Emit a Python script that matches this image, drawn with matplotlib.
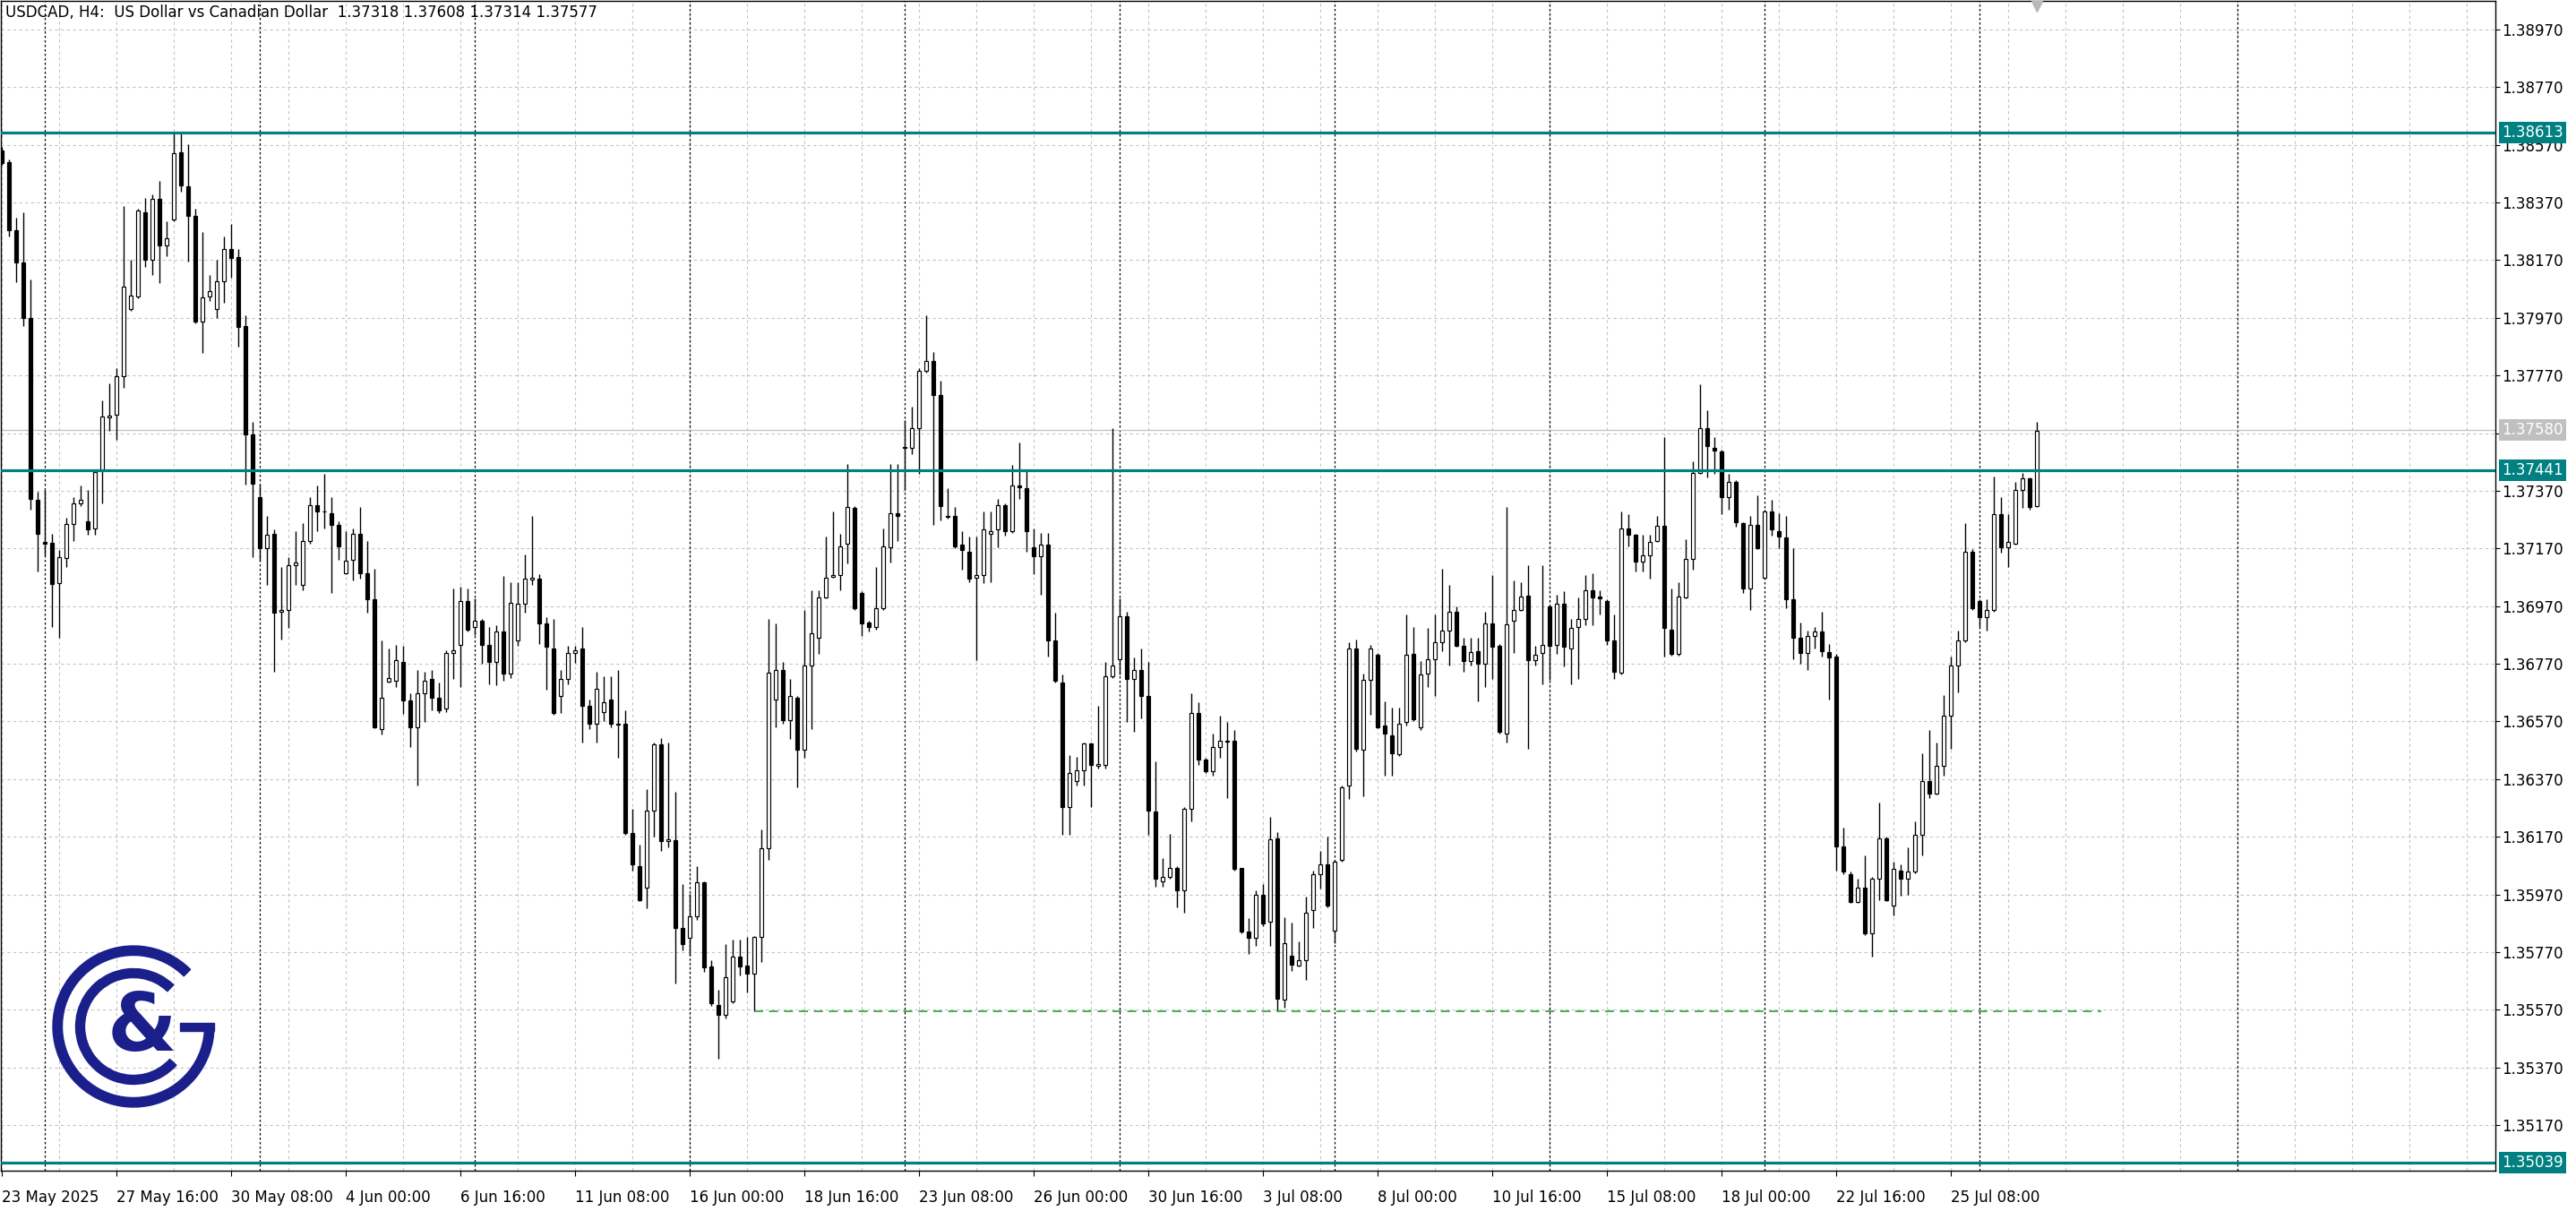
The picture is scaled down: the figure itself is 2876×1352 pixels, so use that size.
import numpy as np
import matplotlib
matplotlib.use("Agg")
import matplotlib.pyplot as plt
import matplotlib.transforms as mtransforms
from matplotlib.patches import Wedge, Rectangle
from matplotlib.ticker import FormatStrFormatter

# USDCAD H4 candles, bar 0 = 23 May 2025 00:00
opens = [
    1.38551, 1.38509, 1.38273, 1.38162, 1.37969, 1.37340, 1.37192, 1.37190, 1.37049, 1.37137,
    1.37254, 1.37327, 1.37265, 1.37239, 1.37441, 1.37625, 1.37635, 1.37766, 1.37999, 1.38044,
    1.38337, 1.38170, 1.38384, 1.38220, 1.38312, 1.38545, 1.38427, 1.38322, 1.37956, 1.38044,
    1.37999, 1.38098, 1.38209, 1.38181, 1.37941, 1.37565, 1.37349, 1.37171, 1.37220, 1.36951,
    1.36957, 1.37111, 1.37043, 1.37197, 1.37321, 1.37299, 1.37293, 1.37252, 1.37085, 1.37132,
    1.37222, 1.37085, 1.36993, 1.36544, 1.36709, 1.36711, 1.36775, 1.36642, 1.36550, 1.36668,
    1.36717, 1.36653, 1.36615, 1.36807, 1.36835, 1.36989, 1.36897, 1.36918, 1.36835, 1.36775,
    1.36882, 1.36737, 1.36850, 1.36979, 1.37062, 1.37064, 1.36910, 1.36824, 1.36657, 1.36717,
    1.36807, 1.36824, 1.36625, 1.36561, 1.36604, 1.36645, 1.36563, 1.36561, 1.36182, 1.36069,
    1.35994, 1.36262, 1.36491, 1.36155, 1.36159, 1.35855, 1.35819, 1.35893, 1.36011, 1.35720,
    1.35588, 1.35551, 1.35598, 1.35754, 1.35722, 1.35694, 1.35823, 1.36129, 1.36647, 1.36749,
    1.36576, 1.36653, 1.36471, 1.36764, 1.36861, 1.37000, 1.37073, 1.37079, 1.37186, 1.37310,
    1.37017, 1.36914, 1.36897, 1.36963, 1.37175, 1.37293, 1.37522, 1.37520, 1.37588, 1.37787,
    1.37819, 1.37702, 1.37284, 1.37282, 1.37182, 1.37160, 1.37068, 1.37079, 1.37220, 1.37235,
    1.37321, 1.37229, 1.37389, 1.37379, 1.37175, 1.37143, 1.37182, 1.36850, 1.36705, 1.36272,
    1.36362, 1.36401, 1.36493, 1.36416, 1.36418, 1.36726, 1.36786, 1.36936, 1.36717, 1.36749,
    1.36657, 1.36257, 1.36015, 1.36030, 1.36062, 1.35983, 1.36268, 1.36600, 1.36439, 1.36396,
    1.36482, 1.36503, 1.36503, 1.36062, 1.35840, 1.35819, 1.35968, 1.35876, 1.36165, 1.35605,
    1.35759, 1.35722, 1.35742, 1.35915, 1.36041, 1.36075, 1.35844, 1.36090, 1.36347, 1.36824,
    1.36471, 1.36715, 1.36801, 1.36555, 1.36523, 1.36458, 1.36567, 1.36803, 1.36550, 1.36737,
    1.36786, 1.36846, 1.36886, 1.36951, 1.36833, 1.36779, 1.36814, 1.36769, 1.36910, 1.36833,
    1.36529, 1.36918, 1.36957, 1.37006, 1.36782, 1.36807, 1.36968, 1.36835, 1.36979, 1.36824,
    1.36897, 1.36925, 1.37026, 1.37002, 1.36989, 1.36850, 1.36739, 1.37239, 1.37218, 1.37124,
    1.37145, 1.37197, 1.37250, 1.36889, 1.36803, 1.37000, 1.37135, 1.37432, 1.37588, 1.37520,
    1.37507, 1.37349, 1.37402, 1.37257, 1.37032, 1.37252, 1.37068, 1.37299, 1.37231, 1.37207,
    1.36993, 1.36861, 1.36807, 1.36867, 1.36882, 1.36811, 1.36796, 1.36137, 1.36041, 1.35945,
    1.35994, 1.35834, 1.36026, 1.36165, 1.35930, 1.36054, 1.36026, 1.36048, 1.36176, 1.36364,
    1.36321, 1.36416, 1.36589, 1.36764, 1.36850, 1.37160, 1.36989, 1.36931, 1.36957, 1.37289,
    1.37175, 1.37188, 1.37374, 1.37413, 1.37318,
]
highs = [
    1.38562, 1.38519, 1.38316, 1.38337, 1.38102, 1.37368, 1.37374, 1.37220, 1.37165, 1.37278,
    1.37349, 1.37389, 1.37374, 1.37445, 1.37685, 1.37742, 1.37796, 1.38359, 1.38172, 1.38348,
    1.38386, 1.38397, 1.38444, 1.38305, 1.38613, 1.38609, 1.38571, 1.38348, 1.38269, 1.38117,
    1.38172, 1.38252, 1.38295, 1.38209, 1.37980, 1.37610, 1.37391, 1.37282, 1.37235, 1.37107,
    1.37139, 1.37231, 1.37257, 1.37349, 1.37389, 1.37428, 1.37349, 1.37263, 1.37231, 1.37239,
    1.37314, 1.37197, 1.37100, 1.36850, 1.36824, 1.36837, 1.36833, 1.36668, 1.36747, 1.36743,
    1.36747, 1.36705, 1.36818, 1.37032, 1.37036, 1.37032, 1.36996, 1.36927, 1.36897, 1.36903,
    1.37075, 1.37053, 1.37053, 1.37150, 1.37284, 1.37081, 1.36931, 1.36925, 1.36747, 1.36833,
    1.36833, 1.36897, 1.36647, 1.36743, 1.36726, 1.36726, 1.36747, 1.36610, 1.36268, 1.36144,
    1.36336, 1.36497, 1.36512, 1.36497, 1.36326, 1.36005, 1.35973, 1.36069, 1.36015, 1.35742,
    1.35641, 1.35797, 1.35812, 1.35812, 1.35823, 1.35827, 1.36197, 1.36925, 1.36910, 1.36775,
    1.36717, 1.36657, 1.36957, 1.37026, 1.37026, 1.37210, 1.37299, 1.37220, 1.37464, 1.37316,
    1.37021, 1.36918, 1.37107, 1.37239, 1.37464, 1.37464, 1.37614, 1.37663, 1.37796, 1.37978,
    1.37852, 1.37753, 1.37379, 1.37314, 1.37231, 1.37210, 1.37210, 1.37299, 1.37299, 1.37342,
    1.37325, 1.37460, 1.37539, 1.37443, 1.37239, 1.37224, 1.37224, 1.36946, 1.36732, 1.36454,
    1.36448, 1.36497, 1.36497, 1.36625, 1.36775, 1.37588, 1.36996, 1.36951, 1.36792, 1.36824,
    1.36775, 1.36433, 1.36097, 1.36180, 1.36069, 1.36272, 1.36668, 1.36636, 1.36443, 1.36529,
    1.36589, 1.36567, 1.36540, 1.36062, 1.35887, 1.35983, 1.36005, 1.36240, 1.36187, 1.35891,
    1.35872, 1.35808, 1.35962, 1.36054, 1.36122, 1.36170, 1.36090, 1.36347, 1.36846, 1.36854,
    1.36737, 1.36835, 1.36807, 1.36640, 1.36619, 1.36619, 1.36942, 1.36899, 1.36779, 1.36893,
    1.36940, 1.37100, 1.37043, 1.36968, 1.36861, 1.36861, 1.36861, 1.36951, 1.37079, 1.36839,
    1.37314, 1.37060, 1.37053, 1.37113, 1.36833, 1.37113, 1.36972, 1.37010, 1.37021, 1.36925,
    1.37000, 1.37079, 1.37085, 1.37026, 1.36993, 1.36940, 1.37299, 1.37289, 1.37222, 1.37218,
    1.37218, 1.37284, 1.37556, 1.37032, 1.37053, 1.37203, 1.37471, 1.37738, 1.37648, 1.37556,
    1.37513, 1.37428, 1.37406, 1.37261, 1.37282, 1.37353, 1.37304, 1.37338, 1.37293, 1.37282,
    1.37171, 1.36914, 1.36886, 1.36897, 1.36951, 1.36839, 1.36803, 1.36202, 1.36048, 1.36026,
    1.36105, 1.36030, 1.36289, 1.36170, 1.36084, 1.36073, 1.36133, 1.36223, 1.36460, 1.36540,
    1.36497, 1.36662, 1.36796, 1.36886, 1.37257, 1.37167, 1.36993, 1.36993, 1.37421, 1.37347,
    1.37289, 1.37402, 1.37432, 1.37417, 1.37608,
]
lows = [
    1.38502, 1.38252, 1.38095, 1.37941, 1.37306, 1.37090, 1.37145, 1.36899, 1.36861, 1.37107,
    1.37197, 1.37316, 1.37218, 1.37218, 1.37325, 1.37578, 1.37548, 1.37727, 1.37995, 1.38038,
    1.38145, 1.38119, 1.38091, 1.38183, 1.38305, 1.38408, 1.38166, 1.37952, 1.37849, 1.38027,
    1.37969, 1.38023, 1.38108, 1.37871, 1.37391, 1.37139, 1.37128, 1.37043, 1.36743, 1.36854,
    1.36893, 1.37043, 1.37026, 1.37186, 1.37231, 1.37239, 1.37015, 1.37132, 1.37081, 1.37060,
    1.37064, 1.36946, 1.36546, 1.36525, 1.36705, 1.36690, 1.36597, 1.36482, 1.36347, 1.36567,
    1.36610, 1.36600, 1.36604, 1.36717, 1.36690, 1.36882, 1.36871, 1.36771, 1.36700, 1.36696,
    1.36711, 1.36722, 1.36833, 1.36946, 1.37043, 1.36839, 1.36679, 1.36593, 1.36600, 1.36700,
    1.36773, 1.36497, 1.36544, 1.36497, 1.36572, 1.36550, 1.36443, 1.36176, 1.36054, 1.35947,
    1.35923, 1.36170, 1.36122, 1.36133, 1.35662, 1.35776, 1.35759, 1.35881, 1.35701, 1.35583,
    1.35399, 1.35540, 1.35594, 1.35688, 1.35630, 1.35566, 1.35737, 1.36090, 1.36550, 1.36561,
    1.36508, 1.36341, 1.36443, 1.36544, 1.36803, 1.36996, 1.37068, 1.37026, 1.37118, 1.36957,
    1.36867, 1.36882, 1.36889, 1.36957, 1.37122, 1.37197, 1.37374, 1.37496, 1.37428, 1.37781,
    1.37252, 1.37267, 1.37274, 1.37171, 1.37096, 1.37053, 1.36782, 1.37049, 1.37053, 1.37175,
    1.37214, 1.37224, 1.37342, 1.37160, 1.37081, 1.37010, 1.36796, 1.36705, 1.36176, 1.36176,
    1.36347, 1.36347, 1.36272, 1.36407, 1.36407, 1.36722, 1.36732, 1.36567, 1.36533, 1.36582,
    1.36176, 1.35998, 1.35998, 1.36026, 1.35925, 1.35908, 1.36225, 1.36418, 1.36390, 1.36383,
    1.36443, 1.36304, 1.36054, 1.35834, 1.35765, 1.35791, 1.35861, 1.35791, 1.35566, 1.35577,
    1.35705, 1.35720, 1.35673, 1.35855, 1.35990, 1.35925, 1.35801, 1.36084, 1.36300, 1.36465,
    1.36309, 1.36593, 1.36546, 1.36383, 1.36383, 1.36450, 1.36557, 1.36572, 1.36540, 1.36690,
    1.36657, 1.36814, 1.36764, 1.36829, 1.36743, 1.36764, 1.36640, 1.36690, 1.36717, 1.36529,
    1.36497, 1.36807, 1.36953, 1.36476, 1.36764, 1.36700, 1.36715, 1.36803, 1.36760, 1.36700,
    1.36717, 1.36903, 1.36903, 1.36940, 1.36835, 1.36717, 1.36732, 1.37177, 1.37090, 1.37090,
    1.37064, 1.37192, 1.36796, 1.36799, 1.36799, 1.36996, 1.37096, 1.37428, 1.37417, 1.37428,
    1.37289, 1.37304, 1.37246, 1.37015, 1.36957, 1.37167, 1.37064, 1.37214, 1.37171, 1.36963,
    1.36786, 1.36769, 1.36749, 1.36824, 1.36796, 1.36647, 1.36054, 1.36041, 1.35941, 1.35941,
    1.35829, 1.35754, 1.35951, 1.35947, 1.35898, 1.35966, 1.35968, 1.36043, 1.36107, 1.36304,
    1.36317, 1.36383, 1.36476, 1.36672, 1.36846, 1.36957, 1.36897, 1.36886, 1.36951, 1.37154,
    1.37107, 1.37182, 1.37310, 1.37306, 1.37314,
]
closes = [
    1.38508, 1.38273, 1.38162, 1.37969, 1.37342, 1.37220, 1.37188, 1.37047, 1.37139, 1.37254,
    1.37327, 1.37340, 1.37235, 1.37434, 1.37627, 1.37631, 1.37766, 1.38078, 1.38048, 1.38342,
    1.38170, 1.38384, 1.38220, 1.38245, 1.38541, 1.38429, 1.38322, 1.37956, 1.38042, 1.38063,
    1.38098, 1.38209, 1.38177, 1.37937, 1.37565, 1.37396, 1.37171, 1.37218, 1.36946, 1.36957,
    1.37111, 1.37120, 1.37197, 1.37321, 1.37299, 1.37297, 1.37252, 1.37177, 1.37128, 1.37222,
    1.37085, 1.36993, 1.36550, 1.36653, 1.36722, 1.36782, 1.36642, 1.36550, 1.36668, 1.36711,
    1.36653, 1.36610, 1.36807, 1.36818, 1.36989, 1.36889, 1.36918, 1.36835, 1.36775, 1.36882,
    1.36737, 1.36981, 1.36979, 1.37064, 1.37068, 1.36910, 1.36829, 1.36600, 1.36717, 1.36807,
    1.36816, 1.36625, 1.36561, 1.36683, 1.36636, 1.36561, 1.36559, 1.36182, 1.36073, 1.35951,
    1.36262, 1.36491, 1.36155, 1.36161, 1.35855, 1.35797, 1.35893, 1.36011, 1.35716, 1.35592,
    1.35551, 1.35684, 1.35754, 1.35720, 1.35694, 1.35823, 1.36129, 1.36739, 1.36749, 1.36576,
    1.36657, 1.36471, 1.36764, 1.36876, 1.37000, 1.37070, 1.37079, 1.37177, 1.37314, 1.36963,
    1.36910, 1.36897, 1.36963, 1.37177, 1.37293, 1.37282, 1.37518, 1.37588, 1.37787, 1.37819,
    1.37702, 1.37316, 1.37280, 1.37177, 1.37165, 1.37064, 1.37079, 1.37235, 1.37229, 1.37321,
    1.37229, 1.37389, 1.37381, 1.37229, 1.37143, 1.37182, 1.36850, 1.36711, 1.36272, 1.36390,
    1.36401, 1.36493, 1.36418, 1.36422, 1.36726, 1.36764, 1.36936, 1.36717, 1.36749, 1.36657,
    1.36262, 1.36026, 1.36030, 1.36062, 1.35983, 1.36268, 1.36600, 1.36439, 1.36396, 1.36480,
    1.36503, 1.36499, 1.36058, 1.35840, 1.35819, 1.35968, 1.35870, 1.36161, 1.35609, 1.35801,
    1.35727, 1.35742, 1.35908, 1.36041, 1.36073, 1.35930, 1.36084, 1.36343, 1.36824, 1.36476,
    1.36715, 1.36822, 1.36550, 1.36529, 1.36460, 1.36561, 1.36801, 1.36578, 1.36732, 1.36786,
    1.36846, 1.36886, 1.36951, 1.36833, 1.36779, 1.36811, 1.36769, 1.36910, 1.36829, 1.36533,
    1.36908, 1.36957, 1.37004, 1.36782, 1.36801, 1.36835, 1.36833, 1.36979, 1.36829, 1.36893,
    1.36925, 1.37026, 1.37000, 1.36998, 1.36850, 1.36743, 1.37239, 1.37218, 1.37124, 1.37145,
    1.37192, 1.37250, 1.36893, 1.36803, 1.37004, 1.37135, 1.37432, 1.37588, 1.37524, 1.37509,
    1.37349, 1.37400, 1.37261, 1.37032, 1.37252, 1.37171, 1.37299, 1.37235, 1.37210, 1.36993,
    1.36861, 1.36807, 1.36867, 1.36882, 1.36814, 1.36792, 1.36137, 1.36048, 1.35945, 1.35994,
    1.35834, 1.36026, 1.36165, 1.35951, 1.36058, 1.36026, 1.36048, 1.36176, 1.36364, 1.36321,
    1.36416, 1.36589, 1.36764, 1.36850, 1.37160, 1.36963, 1.36931, 1.36957, 1.37289, 1.37175,
    1.37192, 1.37374, 1.37413, 1.37314, 1.37577,
]

date_labels = ["23 May 2025", "27 May 16:00", "30 May 08:00", "4 Jun 00:00", "6 Jun 16:00",
               "11 Jun 08:00", "16 Jun 00:00", "18 Jun 16:00", "23 Jun 08:00", "26 Jun 00:00",
               "30 Jun 16:00", "3 Jul 08:00", "8 Jul 00:00", "10 Jul 16:00", "15 Jul 08:00",
               "18 Jul 00:00", "22 Jul 16:00", "25 Jul 08:00"]
label_bars = [16 * k for k in range(len(date_labels))]
week_starts = [6, 36, 66, 96, 126, 156, 186, 216, 246, 276, 312]  # Monday 00:00 separators

levels = [1.38613, 1.37441, 1.35039]   # teal horizontal lines
bid_price = 1.37580
support_price = 1.35566                 # dashed green line
support_from, support_to = 105, 293

title = "USDCAD, H4:  US Dollar vs Canadian Dollar  1.37318 1.37608 1.37314 1.37577"

TEAL = "#008080"
LOGO_BLUE = "#1b1f8c"
GRID = "#c4c4c4"

plt.rcParams["font.family"] = ["DejaVu Sans"]

W, H = 2876, 1352
fig = plt.figure(figsize=(W / 100, H / 100), dpi=100)
ax = fig.add_axes([1 / W, 45 / H, 2785 / W, 1306 / H])

o = np.array(opens)
hi = np.array(highs)
lo = np.array(lows)
c = np.array(closes)
x = np.arange(len(o))
up = c >= o

# candles
ax.vlines(x, lo, hi, color="black", linewidth=1.0, zorder=3)
ax.bar(x, np.abs(c - o), bottom=np.minimum(o, c), width=0.56,
       color=["white" if u else "black" for u in up],
       edgecolor="black", linewidth=0.85, zorder=4)

y_top, y_bot = 1.39069, 1.35012
ax.set_ylim(y_bot, y_top)
ax.set_xlim(-0.125, 348)

# price scale on the right
yticks = [1.35170 + 0.002 * k for k in range(20)]
ax.set_yticks(yticks)
ax.yaxis.tick_right()
ax.yaxis.set_major_formatter(FormatStrFormatter("%.5f"))
ax.tick_params(axis="y", direction="out", length=3.5, width=0.8, labelsize=12, pad=1.5)

ax.set_xticks(label_bars)
ax.set_xticklabels(date_labels, ha="left")
ax.set_xticks(np.arange(0, 348, 8), minor=True)
ax.tick_params(axis="x", which="major", direction="out", length=4, width=0.8, labelsize=12, pad=11)
ax.tick_params(axis="x", which="minor", length=0)

ax.grid(True, axis="y", which="major", color=GRID, linestyle=(0, (3, 3)), linewidth=0.8)
ax.grid(True, axis="x", which="both", color=GRID, linestyle=(0, (3, 3)), linewidth=0.8)
ax.set_axisbelow(True)
for s in ax.spines.values():
    s.set_linewidth(1.0)

# weekly separators
for b in week_starts:
    ax.axvline(b, color="black", linewidth=0.9, linestyle=(0, (2, 2)), zorder=2)

# bid line
ax.axhline(bid_price, color="#c0c0c0", linewidth=0.9, zorder=2.5)

# horizontal levels
for lv in levels:
    ax.axhline(lv, color=TEAL, linewidth=2.3, zorder=5)

ax.hlines(support_price, support_from, support_to, colors="#2f9e2f",
          linestyles=(0, (6, 4)), linewidth=1.2, zorder=5)

# price labels on the scale
trans = mtransforms.blended_transform_factory(ax.transAxes, ax.transData)
for lv in levels:
    ax.text(1.0 + 7 / 2785, lv, f"{lv:.5f}", transform=trans, ha="left", va="center",
            color="white", fontsize=12, zorder=10, clip_on=False,
            bbox=dict(boxstyle="square,pad=0.18", fc=TEAL, ec="none"))
ax.text(1.0 + 7 / 2785, bid_price, f"{bid_price:.5f}", transform=trans, ha="left",
        va="center", color="white", fontsize=12, zorder=10, clip_on=False,
        bbox=dict(boxstyle="square,pad=0.18", fc="#c0c0c0", ec="none"))

# shift marker at the top
ax.plot([x[-1]], [y_top - 6 * (y_top - y_bot) / 1306], marker="v", color="#b8b8b8",
        markersize=8, clip_on=False, zorder=6)

fig.text(6 / W, 1 - 5 / H, title, ha="left", va="top", fontsize=12, color="black")

# logo
lax = fig.add_axes([(149 - 110) / W, (H - 1146 - 110) / H, 220 / W, 220 / H])
lax.set_xlim(0, 220)
lax.set_ylim(0, 220)
lax.axis("off")
cx, cy = 110, 110
lax.add_patch(Wedge((cx, cy), 90, 45, 360, width=10.5, color=LOGO_BLUE))
lax.add_patch(Rectangle((cx + 52, cy - 4.5), 38, 9, color=LOGO_BLUE))
lax.add_patch(Wedge((cx, cy), 64.5, 46, 318, width=10, color=LOGO_BLUE))
lax.text(cx + 9, cy - 2, "&", fontsize=64, fontweight="bold", color=LOGO_BLUE,
         ha="center", va="center")

fig.savefig("out.png", dpi=100)
